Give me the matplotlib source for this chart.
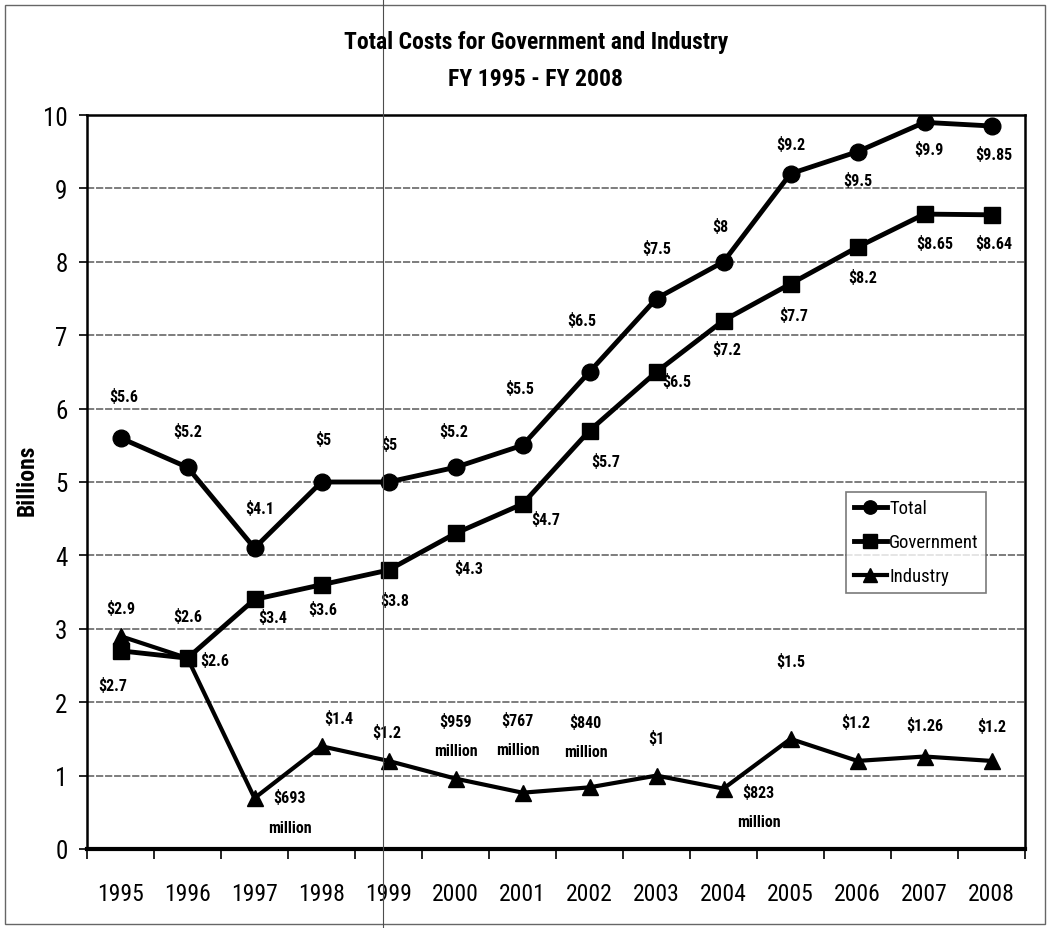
import matplotlib
matplotlib.use('Agg')
import matplotlib.pyplot as plt
from matplotlib.lines import Line2D
from matplotlib.patches import Rectangle
from matplotlib import font_manager
import numpy as np

names = sorted({f.name for f in font_manager.fontManager.ttflist})
narrow = [n for n in ['Liberation Sans Narrow', 'DejaVu Sans Condensed', 'Roboto Condensed',
                      'Open Sans Condensed', 'Noto Sans Condensed'] if n in names]
plt.rcParams['font.family'] = narrow + ['Liberation Sans', 'DejaVu Sans']

years = ['1995', '1996', '1997', '1998', '1999', '2000', '2001',
         '2002', '2003', '2004', '2005', '2006', '2007', '2008']
total = [5.6, 5.2, 4.1, 5.0, 5.0, 5.2, 5.5, 6.5, 7.5, 8.0, 9.2, 9.5, 9.9, 9.85]
government = [2.7, 2.6, 3.4, 3.6, 3.8, 4.3, 4.7, 5.7, 6.5, 7.2, 7.7, 8.2, 8.65, 8.64]
industry = [2.9, 2.6, 0.693, 1.4, 1.2, 0.959, 0.767, 0.840, 1.0, 0.823, 1.5, 1.2, 1.26, 1.2]

total_labels = ['$5.6', '$5.2', '$4.1', '$5', '$5', '$5.2', '$5.5', '$6.5', '$7.5',
                '$8', '$9.2', '$9.5', '$9.9', '$9.85']
gov_labels = ['$2.7', '$2.6', '$3.4', '$3.6', '$3.8', '$4.3', '$4.7', '$5.7', '$6.5',
              '$7.2', '$7.7', '$8.2', '$8.65', '$8.64']
ind_labels = ['$2.9', '$2.6', '$693\nmillion', '$1.4', '$1.2', '$959\nmillion',
              '$767\nmillion', '$840\nmillion', '$1', '$823\nmillion', '$1.5',
              '$1.2', '$1.26', '$1.2']

# label offsets in pixels (dx, dy)
total_off = [(3, 42), (0, 36), (5, 40), (2, 43), (1, 38), (-2, 36), (-3, 57), (-8, 52),
             (0, 50), (-3, 36), (0, 30), (0, -28), (4, -27), (2, -28)]
gov_off = [(-8, -34), (27, -2), (18, -18), (1, -24), (6, -30), (13, -35), (23, -15),
           (16, -30), (20, -9), (3, -28), (3, -31), (5, -30), (10, -29), (2, -28)]
ind_off = [(0, 28), (0, 42), (35, -14), (17, 28), (-2, 29), (0, 43), (-5, 58),
           (-4, 51), (0, 38), (35, -18), (0, 78), (-2, 39), (0, 32), (0, 35)]

fig = plt.figure(figsize=(10.5, 9.29), dpi=100)
ax = fig.add_axes([87/1050, 1-850/929, (1025-87)/1050, (850-116)/929])

x = np.arange(len(years))
ax.plot(x, total, color='black', lw=3.5, marker='o', ms=12, label='Total', zorder=4)
ax.plot(x, government, color='black', lw=3.5, marker='s', ms=12, label='Government', zorder=4)
ax.plot(x, industry, color='black', lw=3, marker='^', ms=12, label='Industry', zorder=4)

for labels, vals, offs in [(total_labels, total, total_off),
                           (gov_labels, government, gov_off),
                           (ind_labels, industry, ind_off)]:
    for i, (lab, v, (dx, dy)) in enumerate(zip(labels, vals, offs)):
        ax.annotate(lab.replace('$', r'\$'), (i, v), xytext=(dx, dy), textcoords='offset pixels',
                    ha='center', va='center', fontsize=11.5, fontweight='semibold',
                    linespacing=2.2, zorder=5)

ax.set_xlim(-0.5, 13.5)
ax.set_ylim(0, 10)
ax.set_yticks(range(0, 11))
ax.set_xticks(x)
ax.set_xticklabels(years, fontsize=17)
ax.tick_params(axis='x', length=0, pad=24)
ax.set_xticks(np.arange(-0.5, 14, 1), minor=True)
ax.tick_params(axis='x', which='minor', length=7, width=1.2, direction='out')
ax.tick_params(axis='y', labelsize=18, length=6, width=1.2, pad=8)

ax.yaxis.grid(True, color='0.45', lw=1.3, ls=(0, (4, 1)))
ax.set_axisbelow(True)
for side in ['left', 'top', 'right']:
    ax.spines[side].set_linewidth(1.8)
ax.spines['bottom'].set_linewidth(3)

fig.text(27/1050, 1-480/929, 'Billions', rotation=90, ha='center', va='center',
         fontsize=17, fontweight='bold')

leg = ax.legend(loc='upper left', bbox_to_anchor=((846-87)/938, (850-493)/734),
                fontsize=13.5, frameon=True, fancybox=False, handlelength=1.8,
                handletextpad=0.1, borderpad=0.4, borderaxespad=0, labelspacing=0.85,
                markerscale=0.8)
leg.get_frame().set_edgecolor('0.35')
leg.get_frame().set_linewidth(1.2)

fig.text(536/1050, 1-43/929, 'Total Costs for Government and Industry',
         ha='center', va='center', fontsize=17, fontweight='bold')
fig.text(536/1050, 1-80/929, 'FY 1995 - FY 2008',
         ha='center', va='center', fontsize=17, fontweight='bold')

# scan border and fold line
fig.add_artist(Rectangle((5/1050, 4/929), 1040/1050, 919/929, transform=fig.transFigure,
                         fill=False, ec='0.4', lw=1))
fig.add_artist(Line2D([383/1050, 383/1050], [0, 1], transform=fig.transFigure,
                      color='0.3', lw=0.8))

fig.savefig('out.png', dpi=100)
